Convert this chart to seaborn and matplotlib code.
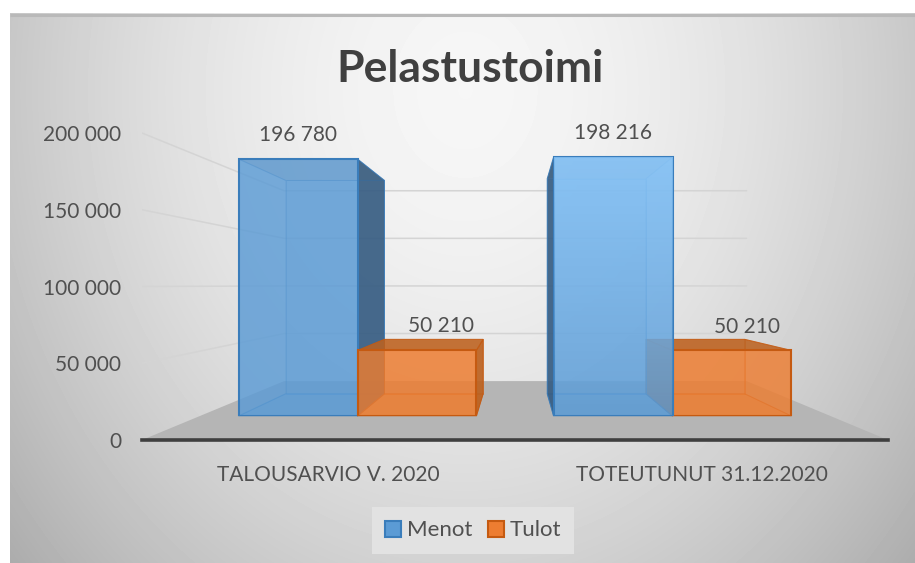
import matplotlib
matplotlib.use('Agg')
import matplotlib.pyplot as plt
import numpy as np
import pandas as pd
import seaborn as sns
from matplotlib.patches import Polygon

# Data
categories = ['TALOUSARVIO V. 2020', 'TOTEUTUNUT 31.12.2020']
series_names = ['Menot', 'Tulot']
menot = [196780, 198216]
tulot = [50210, 50210]
y_ticks = [0, 50000, 100000, 150000, 200000]

W, H = 915, 563
VP = (516, 285)  # vanishing point of the 3D look, pixels from top left
FLOOR_DEPTH = 0.62
BAR_DEPTH = 0.83

colors = {'Menot': '#5b9bd5', 'Tulot': '#ed7d31'}
edges = {'Menot': '#3a7dbb', 'Tulot': '#c55a11'}
sides = {'Menot': '#34587c', 'Tulot': '#b85f1e'}
text_color = '#505050'

sns.set_theme(style='white')
plt.rcParams['font.family'] = ['Lato', 'DejaVu Sans']

df = pd.DataFrame({
    'category': categories * 2,
    'series': [series_names[0]] * 2 + [series_names[1]] * 2,
    'value': menot + tulot,
})


def rect(x0, x1, y_bottom, y_top):
    return [x0 / W, 1 - y_bottom / H, (x1 - x0) / W, (y_bottom - y_top) / H]


fig = plt.figure(figsize=(W / 100, H / 100), dpi=100, facecolor='white')

# Panel background
bg = fig.add_axes([0, 0, 1, 1], zorder=0)
bg.set_axis_off()
xx, yy = np.meshgrid(np.arange(W), np.arange(H))
dist = np.sqrt(((xx - 465) / 560) ** 2 + ((yy - 90) / 680) ** 2)
shade = np.clip(0.965 - 0.26 * dist ** 1.7, 0, 1)
bg.imshow(shade, cmap='gray', vmin=0, vmax=1, extent=(0, W, H, 0), aspect='auto')
bg.set_xlim(0, W)
bg.set_ylim(H, 0)
bg.fill_between([0, 10], 0, H, color='white', lw=0)
bg.fill_between([0, W], 0, 13, color='white', lw=0)
bg.plot([10, W], [14.5, 14.5], color='#b9b9b9', lw=2.2, solid_capstyle='butt')

# Front plane: value axis, category labels, floor and walls
front = fig.add_axes(rect(142, 888, 440, 120), zorder=1)
front.patch.set_alpha(0)
sns.barplot(x=categories, y=[0, 0], ax=front, color='white', alpha=0)
front.set_xlim(-0.5, 1.5)
front.set_ylim(0, 320 / 307 * y_ticks[-1])
front.set_yticks(y_ticks)
front.set_yticklabels([f'{v:,}'.replace(',', ' ') for v in y_ticks])
front.tick_params(axis='y', length=0, pad=15, labelsize=15, labelcolor=text_color)
front.tick_params(axis='x', length=0, pad=18, labelsize=15, labelcolor=text_color)
sns.despine(ax=front, left=True)
front.spines['bottom'].set_linewidth(2.6)
front.spines['bottom'].set_color('#3f3f3f')
front.spines['bottom'].set_zorder(6)

inv = front.transData.inverted()
vx, vy = inv.transform((VP[0], H - VP[1]))


def to_floor(x, y):
    return vx + FLOOR_DEPTH * (x - vx), vy + FLOOR_DEPTH * (y - vy)


front.add_patch(Polygon([(-0.5, 0), to_floor(-0.5, 0), to_floor(1.5, 0), (1.5, 0)],
                        facecolor='#b5b5b5', edgecolor='none', zorder=1, clip_on=False))
for v in y_ticks[1:]:
    corner = to_floor(-0.5, v)
    end = to_floor(1.5, v)
    front.plot([-0.5, corner[0], end[0]], [v, corner[1], end[1]],
               color='#d4d4d4', lw=1.1, zorder=0.5)

# Bar plane, a little deeper than the front plane
ax = fig.add_axes(rect(200, 830, 416, 120), zorder=2)
ax.patch.set_alpha(0)
sns.barplot(data=df, x='category', y='value', hue='series', palette=colors, ax=ax,
            width=0.755, gap=0, alpha=0.82, linewidth=1.5, saturation=1, legend=False)
ax.set_xlim(-0.5, 1.5)
ax.set_ylim(0, 296 / 1.306 * 1000)
ax.set_axis_off()

bvx, bvy = ax.transData.inverted().transform((VP[0], H - VP[1]))


def to_back(x, y):
    return bvx + BAR_DEPTH * (x - bvx), bvy + BAR_DEPTH * (y - bvy)


bars = []
for name, cont in zip(series_names, ax.containers):
    for bar in cont:
        bars.append((name, bar))
# farther from the viewer's x goes first, so nearer bars lie on top
bars.sort(key=lambda b: -abs(b[1].get_x() + b[1].get_width() / 2 - bvx))

for rank, (name, bar) in enumerate(bars):
    z = 3 + rank * 2
    x0, x1 = bar.get_x(), bar.get_x() + bar.get_width()
    y0, y1 = 0, bar.get_height()
    a, b, c, d = (x0, y0), (x1, y0), (x1, y1), (x0, y1)
    ba, bb, bc, bd = to_back(*a), to_back(*b), to_back(*c), to_back(*d)
    faces = [
        ([ba, bb, bc, bd], colors[name], 0.45),   # back
        ([a, b, bb, ba], colors[name], 0.55),     # bottom
        ([a, d, bd, ba], sides[name] if bvx < x0 else colors[name], 0.35 if bvx >= x0 else 0.85),  # left
        ([b, c, bc, bb], sides[name] if bvx > x1 else colors[name], 0.35 if bvx <= x1 else 0.85),  # right
        ([d, c, bc, bd], sides[name], 0.8 if name == 'Tulot' else 0.3),  # top
    ]
    for pts, col, alpha in faces:
        ax.add_patch(Polygon(pts, facecolor=col, alpha=alpha, edgecolor=edges[name],
                             lw=0.7, zorder=z, clip_on=False))
    bar.set_zorder(z + 1)
    bar.set_edgecolor(edges[name])
    bar.set_alpha(None)
    r, g, bl = matplotlib.colors.to_rgb(colors[name])
    bar.set_facecolor((r, g, bl, 0.72))

# Second Menot bar is lighter towards the top
light = next(bar for name, bar in bars if name == 'Menot' and bar.get_x() > 0.5)
grad = np.zeros((64, 2, 4))
grad[..., :3] = (0.58, 0.81, 1.0)
grad[..., 3] = np.linspace(0.72, 0.0, 64)[:, None]
im = ax.imshow(grad, extent=(light.get_x(), light.get_x() + light.get_width(), 0, light.get_height()),
               origin='upper', aspect='auto', zorder=light.get_zorder() + 0.5)
im.set_clip_path(light)
ax.set_xlim(-0.5, 1.5)
ax.set_ylim(0, 296 / 1.306 * 1000)

# Value labels
label_shift = {(0, 'Menot'): (0, 24), (0, 'Tulot'): (24, 24), (1, 'Menot'): (0, 24), (1, 'Tulot'): (15, 23)}
for name, bar in bars:
    idx = 0 if bar.get_x() < 0.5 else 1
    dx, dy = label_shift[(idx, name)]
    ax.annotate(f'{int(bar.get_height()):,}'.replace(',', ' '),
                (bar.get_x() + bar.get_width() / 2, bar.get_height()),
                xytext=(dx * 0.72, dy * 0.72), textcoords='offset points',
                ha='center', va='center', fontsize=15, color=text_color, zorder=30)

fig.text(470.5 / W, 1 - 68.5 / H, 'Pelastustoimi', ha='center', va='center',
         fontsize=32, fontweight='bold', color='#404040')

handles = [matplotlib.patches.Patch(facecolor=colors[n], edgecolor=edges[n], lw=1.5, label=n)
           for n in series_names]
leg = fig.legend(handles=handles, loc='center', bbox_to_anchor=(473 / W, 1 - 530.5 / H),
                 ncol=2, frameon=True, fontsize=16, handlelength=0.72, handleheight=0.72,
                 handletextpad=0.25, columnspacing=0.7, labelcolor=text_color,
                 borderpad=0.6, borderaxespad=0, fancybox=False)
leg.get_frame().set_facecolor('#e2e2e2')
leg.get_frame().set_edgecolor('none')
leg.get_frame().set_alpha(1)

fig.savefig('out.png', dpi=100)
